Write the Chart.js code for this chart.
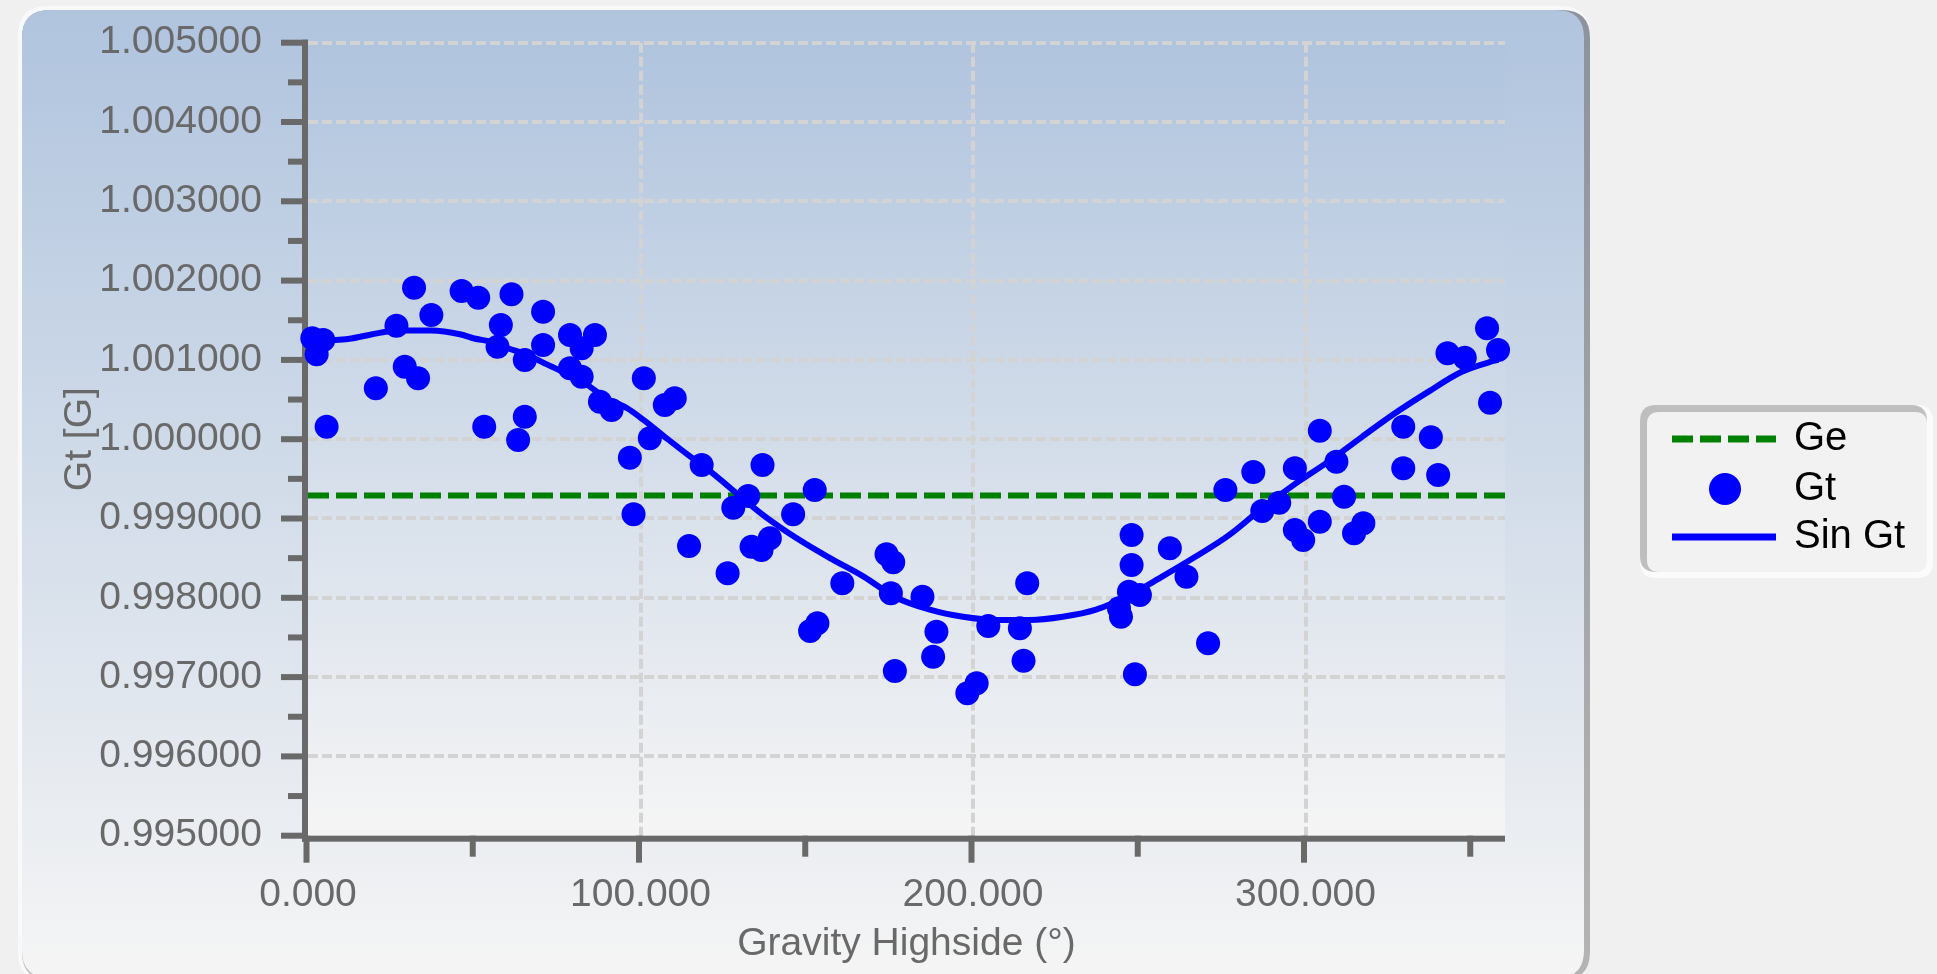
<!DOCTYPE html>
<html>
<head>
<meta charset="utf-8">
<title>Gt vs Gravity Highside</title>
<script src="https://cdn.jsdelivr.net/npm/chart.js@4.4.1/dist/chart.umd.min.js"></script>
<style>
  html, body { margin: 0; padding: 0; background: #f0f0f0; overflow: hidden; }
  canvas { display: block; }
</style>
</head>
<body>
<canvas id="gtChart" width="1937" height="974"></canvas>
<script>
// Measured total gravity Gt per station, against gravity highside angle (deg)
const gtAngle = [
  1.3, 2.6, 4.6, 5.6, 20.4, 26.6, 29.1, 31.9, 33.1, 37.1,
  46.2, 51.2, 53.0, 57.0, 58.0, 61.2, 63.2, 65.2, 65.2, 70.7,
  70.7, 78.8, 78.8, 82.3, 82.3, 86.3, 87.8, 91.3, 96.8, 97.9,
  101.0, 102.8, 107.3, 110.3, 114.6, 118.4, 126.2, 127.9, 132.4, 133.4,
  136.4, 136.7, 138.9, 145.9, 151.0, 152.4, 153.2, 160.7, 174.0, 175.3,
  176.0, 176.5, 184.8, 188.0, 189.0, 198.3, 201.1, 204.6, 214.1, 215.2,
  216.3, 243.9, 244.5, 246.9, 247.7, 247.7, 248.7, 250.2, 259.2, 264.2,
  270.7, 275.9, 284.3, 287.0, 292.1, 296.8, 296.8, 299.3, 304.3, 304.3,
  309.3, 311.6, 314.6, 317.4, 329.4, 329.4, 337.7, 339.9, 342.7, 347.9,
  354.6, 355.5, 357.9
];
const gtValue = [
  1.001272, 1.001070, 1.001251, 1.000158, 1.000642, 1.001431, 1.000914, 1.001910, 1.000768, 1.001566,
  1.001869, 1.001784, 1.000158, 1.001166, 1.001440, 1.001827, 0.999990, 1.000284, 1.000999, 1.001608,
  1.001188, 1.001314, 1.000894, 1.001146, 1.000788, 1.001314, 1.000473, 1.000368, 0.999767, 0.999053,
  1.000768, 1.000011, 1.000431, 1.000516, 0.998653, 0.999675, 0.998309, 0.999136, 0.999284, 0.998644,
  0.998603, 0.999675, 0.998750, 0.999053, 0.997581, 0.999359, 0.997678, 0.998183, 0.998549, 0.998057,
  0.998448, 0.997077, 0.998014, 0.997257, 0.997573, 0.996796, 0.996922, 0.997644, 0.997615, 0.997207,
  0.998183, 0.997867, 0.997762, 0.998077, 0.998792, 0.998414, 0.997035, 0.998035, 0.998624, 0.998266,
  0.997426, 0.999359, 0.999587, 0.999095, 0.999200, 0.999633, 0.998855, 0.998729, 1.000107, 0.998960,
  0.999716, 0.999275, 0.998813, 0.998939, 1.000158, 0.999633, 1.000024, 0.999548, 1.001083, 1.001028,
  1.001398, 1.000460, 1.001125
];

// Fitted sine curve, sampled along the highside angle
const sinAngle = [
  0, 13, 19, 27, 37, 46, 50, 55, 60, 66,
  72, 82, 90, 96, 101, 107, 115, 119, 137, 147,
  157, 167, 177, 187, 197, 207, 217, 227, 237, 247,
  257, 267, 277, 287, 297, 307, 317, 327, 337, 347,
  356, 358
];
const sinValue = [
  1.00123, 1.00127, 1.00132, 1.00137, 1.00137, 1.00132, 1.00127, 1.00123, 1.00115, 1.00106,
  1.00094, 1.00074, 1.00051, 1.00039, 1.00024, 1.00004, 0.99978, 0.99966, 0.99904, 0.99875,
  0.99850, 0.99827, 0.99800, 0.99785, 0.99776, 0.99772, 0.99772, 0.99776, 0.99785, 0.99803,
  0.99827, 0.99852, 0.99879, 0.99913, 0.99944, 0.99972, 1.00003, 1.00033, 1.00060, 1.00085,
  1.00098, 1.00100
];

// Expected field strength Ge, drawn across the full angle range
const geAngle = [0, 360];
const geLevel = 0.99929;

const seriesLabels = ['Ge', 'Gt', 'Sin Gt'];

// Axis ticks and their labels
const xMajorTicks = [0, 100, 200, 300];
const xTickLabels = ['0.000', '100.000', '200.000', '300.000'];
const xMinorTicks = [50, 150, 250, 350];
const yMajorTicks = [0.995, 0.996, 0.997, 0.998, 0.999, 1.000, 1.001, 1.002, 1.003, 1.004, 1.005];
const yTickLabels = ['0.995000', '0.996000', '0.997000', '0.998000', '0.999000', '1.000000',
                     '1.001000', '1.002000', '1.003000', '1.004000', '1.005000'];
const yMinorTicks = [0.9955, 0.9965, 0.9975, 0.9985, 0.9995, 1.0005, 1.0015, 1.0025, 1.0035, 1.0045];

const AXIS_COLOR = '#696969';
const GRID_COLOR = '#d3d3d3';
const FONT = "'Liberation Sans', Arial, sans-serif";
const TOP_COLOR = '#b0c4de';
const BOTTOM_COLOR = '#f5f5f5';
const CLEAR = 'rgba(0,0,0,0)';

Chart.defaults.font.family = FONT;

function roundRectPath(ctx, x, y, w, h, r) {
  ctx.beginPath();
  ctx.moveTo(x + r, y);
  ctx.lineTo(x + w - r, y);
  ctx.quadraticCurveTo(x + w, y, x + w, y + r);
  ctx.lineTo(x + w, y + h - r);
  ctx.quadraticCurveTo(x + w, y + h, x + w - r, y + h);
  ctx.lineTo(x + r, y + h);
  ctx.quadraticCurveTo(x, y + h, x, y + h - r);
  ctx.lineTo(x, y + r);
  ctx.quadraticCurveTo(x, y, x + r, y);
  ctx.closePath();
}

// Rounded chart panel and the shaded plotting area behind the grid
const panelBackground = {
  id: 'panelBackground',
  beforeDraw(chart) {
    const { ctx, chartArea: a } = chart;
    ctx.save();
    ctx.fillStyle = '#f0f0f0';
    ctx.fillRect(0, 0, chart.width, chart.height);

    roundRectPath(ctx, 18, 6, 1572, 976, 30);
    ctx.fillStyle = '#f8f9fb';
    ctx.fill();

    const shadow = ctx.createLinearGradient(0, 10, 0, 978);
    shadow.addColorStop(0, '#8d939b');
    shadow.addColorStop(1, '#b4b4b4');
    roundRectPath(ctx, 22, 10, 1568, 970, 28);
    ctx.fillStyle = shadow;
    ctx.fill();

    const panel = ctx.createLinearGradient(0, 10, 0, 978);
    panel.addColorStop(0, TOP_COLOR);
    panel.addColorStop(1, BOTTOM_COLOR);
    roundRectPath(ctx, 22, 10, 1562, 968, 28);
    ctx.fillStyle = panel;
    ctx.fill();

    const plot = ctx.createLinearGradient(0, a.top, 0, a.bottom);
    plot.addColorStop(0, TOP_COLOR);
    plot.addColorStop(1, BOTTOM_COLOR);
    ctx.fillStyle = plot;
    ctx.fillRect(a.left, a.top, a.right - a.left, a.bottom - a.top);
    ctx.restore();
  }
};

// Heavy axis lines with major and minor tick marks
const axisFrame = {
  id: 'axisFrame',
  beforeDatasetsDraw(chart) {
    const { ctx, chartArea: a, scales: { x, y } } = chart;
    const w = 6;
    ctx.save();
    ctx.fillStyle = AXIS_COLOR;
    ctx.fillRect(a.left - w, a.top - 3, w, a.bottom + w - (a.top - 3));
    ctx.fillRect(a.left - w, a.bottom, a.right - a.left + w, w);
    yMajorTicks.forEach(v => {
      const p = y.getPixelForValue(v);
      ctx.fillRect(a.left - 27, p - 3, 27, 6);
    });
    yMinorTicks.forEach(v => {
      const p = y.getPixelForValue(v);
      ctx.fillRect(a.left - 20, p - 3, 20, 6);
    });
    xMajorTicks.forEach(v => {
      const p = x.getPixelForValue(v);
      ctx.fillRect(p - 4.5, a.bottom, 6, 27);
    });
    xMinorTicks.forEach(v => {
      const p = x.getPixelForValue(v);
      ctx.fillRect(p - 4.5, a.bottom, 6, 21);
    });
    ctx.restore();
  }
};

// Framed legend to the right of the panel
const sideLegend = {
  id: 'sideLegend',
  afterDraw(chart) {
    const { ctx } = chart;
    const ds = chart.data.datasets;
    ctx.save();
    roundRectPath(ctx, 1640, 405, 293, 173, 16);
    ctx.fillStyle = '#fbfbfb';
    ctx.fill();
    roundRectPath(ctx, 1640, 405, 287, 167, 16);
    ctx.fillStyle = '#bebebe';
    ctx.fill();
    roundRectPath(ctx, 1647, 412, 280, 160, 12);
    ctx.fillStyle = '#f2f2f2';
    ctx.fill();

    const rows = [439, 489, 537];
    ds.forEach((d, i) => {
      const yRow = rows[i];
      if (d.showLine) {
        ctx.strokeStyle = d.borderColor;
        ctx.lineWidth = d.borderWidth + 1;
        ctx.setLineDash(d.borderDash || []);
        ctx.beginPath();
        ctx.moveTo(1672, yRow);
        ctx.lineTo(1776, yRow);
        ctx.stroke();
        ctx.setLineDash([]);
      } else {
        ctx.fillStyle = d.backgroundColor;
        ctx.beginPath();
        ctx.arc(1725, yRow, 16, 0, Math.PI * 2);
        ctx.fill();
      }
      ctx.fillStyle = '#000000';
      ctx.font = '40px ' + FONT;
      ctx.textBaseline = 'middle';
      ctx.textAlign = 'left';
      ctx.fillText(d.label, 1794, yRow);
    });
    ctx.restore();
  }
};

const toPoints = (xs, ys) => xs.map((v, i) => ({ x: v, y: ys[i] }));

new Chart(document.getElementById('gtChart'), {
  type: 'scatter',
  data: {
    datasets: [
      {
        label: seriesLabels[0],
        data: geAngle.map(a => ({ x: a, y: geLevel })),
        showLine: true,
        borderColor: '#008000',
        borderWidth: 6,
        borderDash: [21, 7],
        pointRadius: 0,
        order: 3
      },
      {
        label: seriesLabels[1],
        data: toPoints(gtAngle, gtValue),
        showLine: false,
        backgroundColor: '#0000ff',
        borderColor: '#0000ff',
        borderWidth: 0,
        pointRadius: 12,
        pointHoverRadius: 12,
        clip: false,
        order: 2
      },
      {
        label: seriesLabels[2],
        data: toPoints(sinAngle, sinValue),
        showLine: true,
        borderColor: '#0000ff',
        borderWidth: 6,
        cubicInterpolationMode: 'monotone',
        pointRadius: 0,
        order: 1
      }
    ]
  },
  options: {
    responsive: false,
    animation: false,
    events: [],
    layout: { padding: { left: 0, right: 432, top: 42.7, bottom: 0 } },
    plugins: {
      legend: { display: false },
      tooltip: { enabled: false }
    },
    scales: {
      x: {
        type: 'linear',
        min: 0,
        max: 360,
        afterFit(scale) { scale.height = 138.3; },
        afterBuildTicks(scale) {
          scale.ticks = xMajorTicks.concat(xMinorTicks).sort((p, q) => p - q).map(v => ({ value: v }));
        },
        ticks: {
          autoSkip: false,
          maxRotation: 0,
          padding: 0,
          color: AXIS_COLOR,
          font: { size: 39 },
          callback(value) {
            const i = xMajorTicks.indexOf(value);
            return i >= 0 ? xTickLabels[i] : '';
          }
        },
        grid: {
          drawTicks: true,
          tickLength: 36,
          tickColor: CLEAR,
          lineWidth: 4,
          color(ctx) {
            const v = ctx.tick && ctx.tick.value;
            return (xMajorTicks.includes(v) && v !== 0) ? GRID_COLOR : CLEAR;
          }
        },
        border: { display: false, dash: [10, 4] },
        title: {
          display: true,
          text: 'Gravity Highside (°)',
          color: AXIS_COLOR,
          font: { size: 39 },
          padding: { top: 0, bottom: 6 }
        }
      },
      y: {
        type: 'linear',
        min: 0.995,
        max: 1.005,
        afterFit(scale) { scale.width = 308; },
        afterBuildTicks(scale) {
          scale.ticks = yMajorTicks.concat(yMinorTicks).sort((p, q) => p - q).map(v => ({ value: v }));
        },
        ticks: {
          autoSkip: false,
          padding: 0,
          color: AXIS_COLOR,
          font: { size: 39 },
          callback(value) {
            const i = yMajorTicks.indexOf(value);
            return i >= 0 ? yTickLabels[i] : '';
          }
        },
        grid: {
          drawTicks: true,
          tickLength: 46,
          tickColor: CLEAR,
          lineWidth: 4,
          color(ctx) {
            const v = ctx.tick && ctx.tick.value;
            return (yMajorTicks.includes(v) && v !== 0.995) ? GRID_COLOR : CLEAR;
          }
        },
        border: { display: false, dash: [10, 4] },
        title: {
          display: true,
          text: 'Gt [G]',
          color: AXIS_COLOR,
          font: { size: 39 },
          padding: { top: 57, bottom: 0 }
        }
      }
    }
  },
  plugins: [panelBackground, axisFrame, sideLegend]
});
</script>
</body>
</html>
